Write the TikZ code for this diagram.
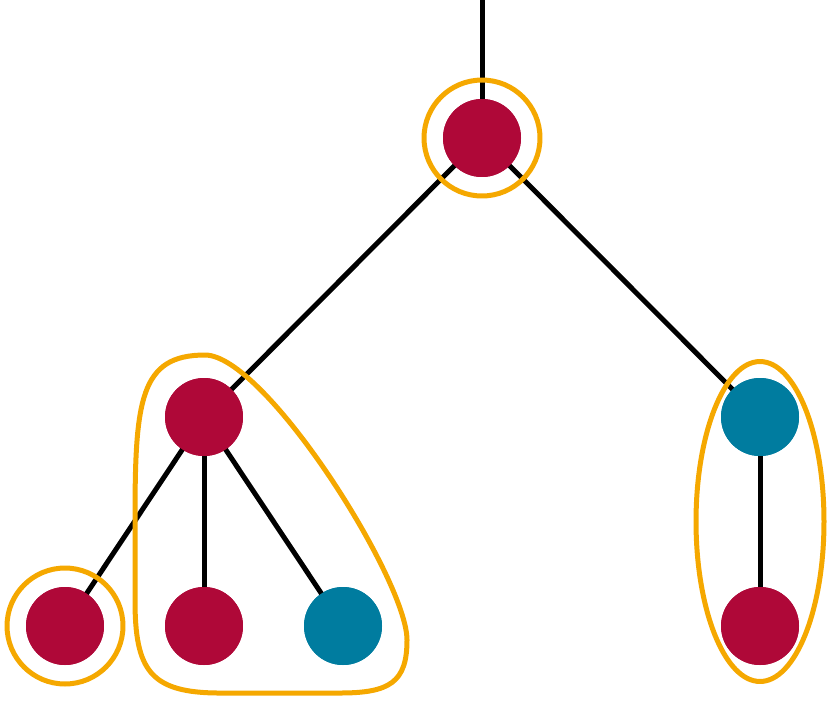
\documentclass[tikz,border=0pt]{standalone}
\usepackage{tikz}
\usetikzlibrary{calc}

\definecolor{crimson}{HTML}{AF0838}
\definecolor{teal}{HTML}{007C9F}
\definecolor{amber}{HTML}{F5A800}

\tikzset{
    vert/.style={circle, minimum size=1.56cm, inner sep=0pt},
    red/.style={vert, fill=crimson},
    blue/.style={vert, fill=teal},
    group/.style={draw=amber, line width=0.1cm},
    edge/.style={draw=black, line width=0.1cm}
}

\begin{document}
\begin{tikzpicture}[x=0.02cm, y=-0.02cm]
        \begin{scope}
            \useasboundingbox (0,0) rectangle (830,700);

            \coordinate (top) at (482,0);

            \node[red]  (root) at (482,138) {};
            \node[red]  (l)    at (204,417) {};
            \node[blue] (r)    at (760,417) {};
            \node[red]  (ll)   at (65,626) {};
            \node[red]  (lm)   at (204,626) {};
            \node[blue] (lr)   at (343,626) {};
            \node[red]  (rb)   at (760,626) {};

            % edges
            \draw[edge] (top) -- (root.center);
            \draw[edge] (root.center) -- (l.center);
            \draw[edge] (root.center) -- (r.center);
            \draw[edge] (l.center) -- (ll.center);
            \draw[edge] (l.center) -- (lm.center);
            \draw[edge] (l.center) -- (lr.center);
            \draw[edge] (r.center) -- (rb.center);

            % groups
            \draw[group] (root.center) circle (0.116cm*10);
            \draw[group] (ll.center) circle (0.116cm*10);
            \draw[group] ($(r.center)!0.5!(rb.center)$) ellipse (1.28cm and 3.2cm);
            \draw[group] (135,520) .. controls (135,400) and (140,355) .. (205,355)
                .. controls (265,355) and (407,580) .. (407,640)
                .. controls (407,682) and (390,693) .. (340,693) -- (220,693)
                .. controls (150,693) and (135,670) .. (135,600) -- cycle;

            % nodes on top
            \foreach \n/\c in {root/crimson, l/crimson, r/teal, ll/crimson, lm/crimson, lr/teal, rb/crimson}
                \fill[\c] (\n.center) circle (0.78cm);

        \end{scope}
    \end{tikzpicture}
\end{document}
